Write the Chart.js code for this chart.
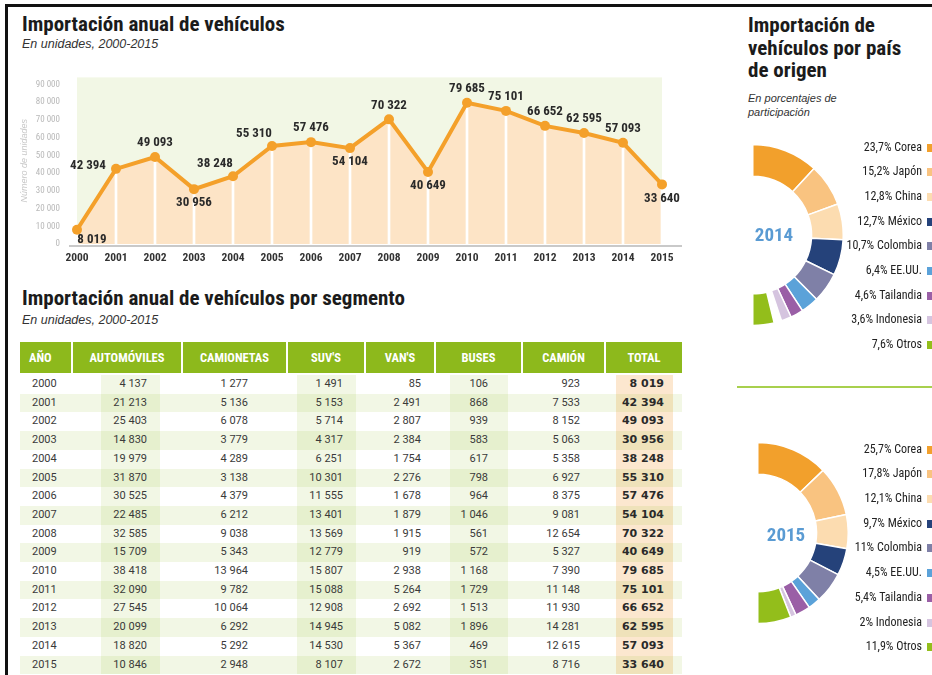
<!DOCTYPE html>
<html lang="es">
<head>
    <meta charset="UTF-8">
    <title>Importación de vehículos</title>
    <script src="https://cdn.jsdelivr.net/npm/chart.js"></script>
    <style>
        :root {
            --cond: "Liberation Sans Narrow", "Roboto Condensed", "DejaVu Sans Condensed", "Arial Narrow", sans-serif;
        }
        body {
            margin: 0;
            width: 932px;
            height: 675px;
            overflow: hidden;
            background: #fff;
            position: relative;
            font-family: "Liberation Sans", Arial, sans-serif;
            color: #222;
        }
        .frame {
            position: absolute;
            left: 5px;
            top: 4px;
            width: 960px;
            height: 700px;
            border-top: 3px solid #111;
            border-left: 3px solid #111;
        }
        .title {
            position: absolute;
            font-family: var(--cond);
            font-weight: bold;
            font-size: 21px;
            color: #1b1b1b;
            white-space: nowrap;
        }
        .sub {
            position: absolute;
            font-style: italic;
            font-size: 12.5px;
            color: #333;
            white-space: nowrap;
        }
        #lineChart { position: absolute; left: 10px; top: 55px; }

        /* tabla */
        .shade { position: absolute; top: 375px; height: 299px; background: rgba(150, 190, 40, 0.12); }
        .shade.total { background: #fce7cf; }
        table {
            position: absolute;
            left: 20px;
            top: 342px;
            width: 662px;
            border-collapse: separate;
            border-spacing: 0;
            table-layout: fixed;
            font-family: Roboto, "Liberation Sans", sans-serif;
            font-size: 11px;
            color: #3a3a3a;
        }
        th {
            background: #8db91c;
            color: #fff;
            font-family: var(--cond);
            font-weight: bold;
            font-size: 12.5px;
            height: 31px;
            padding: 0;
            border-right: 2px solid #fff;
            border-bottom: 2px solid #fff;
            text-align: center;
        }
        th:first-child { text-align: left; padding-left: 9px; }
        th:last-child { border-right: none; }
        td { height: 18.7px; padding: 0; text-align: right; line-height: 18.7px; }
        tbody tr:nth-child(even) td { background: rgba(150, 190, 40, 0.12); }
        td:nth-child(1) { text-align: left; padding-left: 12px; }
        td:nth-child(2) { padding-right: 36px; }
        td:nth-child(3) { padding-right: 40px; }
        td:nth-child(4) { padding-right: 23px; }
        td:nth-child(5) { padding-right: 15px; }
        td:nth-child(6) { padding-right: 35px; }
        td:nth-child(7) { padding-right: 26px; }
        td:nth-child(8) {
            padding-right: 18px;
            font-family: "DejaVu Sans", sans-serif;
            font-weight: bold;
            font-size: 11px;
            color: #2a2a2a;
        }

        /* donas */
        .sep { position: absolute; left: 737px; top: 386px; width: 200px; height: 2px; background: #a8d04e; }
        .dona { position: absolute; }
        .year {
            position: absolute;
            width: 70px;
            text-align: center;
            font-family: var(--cond);
            font-weight: bold;
            font-size: 19px;
            color: #5a9bd3;
        }
        .legend {
            position: absolute;
            left: 795px;
            width: 140px;
            font-family: var(--cond);
            font-size: 12px;
            color: #222;
            text-align: right;
        }
        .legend div { height: 24.7px; line-height: 24.7px; white-space: nowrap; }
        .legend span {
            display: inline-block;
            width: 8px;
            height: 8px;
            margin-left: 5px;
            vertical-align: -1px;
        }
    </style>
</head>
<body>
    <div class="frame"></div>

    <div class="title" style="left:22px; top:12px;">Importación anual de vehículos</div>
    <div class="sub" style="left:22px; top:37px;">En unidades, 2000-2015</div>
    <canvas id="lineChart" width="690" height="220"></canvas>

    <div class="title" style="left:22px; top:286px;">Importación anual de vehículos por segmento</div>
    <div class="sub" style="left:22px; top:313px;">En unidades, 2000-2015</div>
    <div class="shade" style="left:101px; width:59px;"></div>
    <div class="shade" style="left:297px; width:59px;"></div>
    <div class="shade" style="left:450px; width:58px;"></div>
    <div class="shade total" style="left:616px; width:57px;"></div>
    <table id="tabla">
        <colgroup>
            <col style="width:53px"><col style="width:110px"><col style="width:105px"><col style="width:78px">
            <col style="width:70px"><col style="width:87px"><col style="width:83px"><col style="width:76px">
        </colgroup>
        <thead><tr id="cabecera"></tr></thead>
        <tbody id="cuerpo"></tbody>
    </table>

    <div class="title" style="left:748px; top:14px; line-height:22.5px;">Importación de<br>vehículos por país<br>de origen</div>
    <div class="sub" style="left:748px; top:91px; font-size:11px; line-height:14px;">En porcentajes de<br>participación</div>

    <canvas class="dona" id="dona2014" width="92" height="184" style="left:752px; top:143px;"></canvas>
    <div class="year" style="left:739px; top:223px;">2014</div>
    <div class="legend" id="leyenda2014" style="top:134.6px;"></div>

    <div class="sep"></div>

    <canvas class="dona" id="dona2015" width="92" height="184" style="left:757px; top:441px;"></canvas>
    <div class="year" style="left:751px; top:523px;">2015</div>
    <div class="legend" id="leyenda2015" style="top:436.7px;"></div>

    <script>
        // Datos
        const years = ['2000', '2001', '2002', '2003', '2004', '2005', '2006', '2007',
                       '2008', '2009', '2010', '2011', '2012', '2013', '2014', '2015'];
        const totals = [8019, 42394, 49093, 30956, 38248, 55310, 57476, 54104,
                        70322, 40649, 79685, 75101, 66652, 62595, 57093, 33640];
        const yTicks = [0, 10000, 20000, 30000, 40000, 50000, 60000, 70000, 80000, 90000];

        const automoviles = [4137, 21213, 25403, 14830, 19979, 31870, 30525, 22485, 32585, 15709, 38418, 32090, 27545, 20099, 18820, 10846];
        const camionetas = [1277, 5136, 6078, 3779, 4289, 3138, 4379, 6212, 9038, 5343, 13964, 9782, 10064, 6292, 5292, 2948];
        const suvs = [1491, 5153, 5714, 4317, 6251, 10301, 11555, 13401, 13569, 12779, 15807, 15088, 12908, 14945, 14530, 8107];
        const vans = [85, 2491, 2807, 2384, 1754, 2276, 1678, 1879, 1915, 919, 2938, 5264, 2692, 5082, 5367, 2672];
        const buses = [106, 868, 939, 583, 617, 798, 964, 1046, 561, 572, 1168, 1729, 1513, 1896, 469, 351];
        const camion = [923, 7533, 8152, 5063, 5358, 6927, 8375, 9081, 12654, 5327, 7390, 11148, 11930, 14281, 12615, 8716];
        const segmentHeaders = ['AÑO', 'AUTOMÓVILES', 'CAMIONETAS', "SUV'S", "VAN'S", 'BUSES', 'CAMIÓN', 'TOTAL'];

        const countries = ['Corea', 'Japón', 'China', 'México', 'Colombia', 'EE.UU.', 'Tailandia', 'Indonesia', 'Otros'];
        const share2014 = [23.7, 15.2, 12.8, 12.7, 10.7, 6.4, 4.6, 3.6, 7.6];
        const share2015 = [25.7, 17.8, 12.1, 9.7, 11, 4.5, 5.4, 2, 11.9];

        const countryColors = ['#f2a02c', '#f9c380', '#fcdcb0', '#25427a', '#7f80a7', '#5ba2d9', '#9a5fa6', '#d5c4df', '#93be1b'];
        const condFont = '"Liberation Sans Narrow", "Roboto Condensed", "DejaVu Sans Condensed", "Arial Narrow", sans-serif';

        const fmt = n => n.toString().replace(/\B(?=(\d{3})+(?!\d))/g, ' ');

        // Tabla
        const cabecera = document.getElementById('cabecera');
        segmentHeaders.forEach(h => {
            const th = document.createElement('th');
            th.textContent = h;
            cabecera.appendChild(th);
        });
        const cuerpo = document.getElementById('cuerpo');
        years.forEach((y, i) => {
            const tr = document.createElement('tr');
            const cells = [y, fmt(automoviles[i]), fmt(camionetas[i]), fmt(suvs[i]), fmt(vans[i]),
                           fmt(buses[i]), fmt(camion[i]), fmt(totals[i])];
            cells.forEach(c => {
                const td = document.createElement('td');
                td.textContent = c;
                tr.appendChild(td);
            });
            cuerpo.appendChild(tr);
        });

        // Gráfico de línea
        const labelPlace = ['br', 'l', 'a', 'b', 'al', 'al', 'a', 'b', 'a', 'b', 'a', 'a', 'a', 'a', 'a', 'b'];
        const placeOffset = { a: [0, -14], b: [0, 14], al: [-18, -12], l: [-28, -3], br: [15, 10] };

        const plotBackground = {
            id: 'plotBackground',
            beforeDraw(chart) {
                const { ctx, chartArea: a } = chart;
                ctx.save();
                ctx.fillStyle = '#f2f7e5';
                ctx.fillRect(a.left, a.top, a.right - a.left, a.bottom - a.top);
                ctx.restore();
            },
            beforeDatasetsDraw(chart) {
                const { ctx, chartArea: a } = chart;
                ctx.save();
                ctx.strokeStyle = '#c9c9c9';
                ctx.lineWidth = 2;
                ctx.beginPath();
                ctx.moveTo(a.left - 8, a.bottom + 2);
                ctx.lineTo(a.right + 20, a.bottom + 2);
                ctx.stroke();
                ctx.restore();
            }
        };

        const pointLabels = {
            id: 'pointLabels',
            afterDatasetsDraw(chart) {
                const { ctx } = chart;
                const meta = chart.getDatasetMeta(0);
                ctx.save();
                ctx.font = 'bold 13px ' + condFont;
                ctx.fillStyle = '#2a2a2a';
                ctx.textAlign = 'center';
                ctx.textBaseline = 'middle';
                meta.data.forEach((pt, i) => {
                    const off = placeOffset[labelPlace[i]];
                    ctx.fillText(fmt(totals[i]), pt.x + off[0], pt.y + off[1]);
                });
                ctx.restore();
            }
        };

        new Chart(document.getElementById('lineChart'), {
            type: 'line',
            data: {
                labels: years,
                datasets: [{
                    type: 'line',
                    data: totals,
                    order: 0,
                    borderColor: '#f4a02a',
                    borderWidth: 4,
                    backgroundColor: '#fde4c6',
                    fill: 'origin',
                    tension: 0,
                    pointRadius: 5,
                    pointBackgroundColor: '#f4a02a',
                    pointBorderWidth: 0,
                    clip: false
                }, {
                    type: 'bar',
                    data: totals,
                    order: 1,
                    backgroundColor: '#ffffff',
                    barThickness: 2
                }]
            },
            options: {
                responsive: false,
                animation: false,
                layout: { padding: { top: 9, right: 38, left: 0, bottom: 0 } },
                plugins: {
                    legend: { display: false },
                    tooltip: { enabled: false },
                    filler: { drawTime: 'beforeDatasetsDraw' }
                },
                scales: {
                    x: {
                        offset: false,
                        grid: { display: false, drawTicks: false },
                        border: { display: false },
                        afterFit: s => { s.height = 31; },
                        ticks: {
                            padding: 7,
                            color: '#333',
                            autoSkip: false,
                            maxRotation: 0,
                            font: { family: condFont, size: 11.5, weight: 'bold' }
                        }
                    },
                    y: {
                        min: 0,
                        max: 94000,
                        grid: { display: false, drawTicks: false },
                        border: { display: false },
                        afterFit: s => { s.width = 67; },
                        afterBuildTicks: s => { s.ticks = yTicks.map(v => ({ value: v })); },
                        ticks: {
                            padding: 17,
                            color: '#b8b8b8',
                            font: { family: condFont, size: 9 },
                            callback: v => fmt(v)
                        },
                        title: {
                            display: true,
                            text: 'Número de unidades',
                            color: '#c8c8c8',
                            padding: { top: 9, bottom: 0 },
                            font: { family: '"Liberation Sans", Arial, sans-serif', size: 9, style: 'italic' }
                        }
                    }
                }
            },
            plugins: [plotBackground, pointLabels]
        });

        // Donas
        function drawDona(canvasId, legendId, shares) {
            const sum = shares.reduce((s, v) => s + v, 0);
            const gap = Math.max(0, Math.round((100 - sum) * 10) / 10);
            const values = shares.slice(0, 8).concat([gap, shares[8]]);
            const colors = countryColors.slice(0, 8).concat(['rgba(0,0,0,0)', countryColors[8]]);
            const borders = values.map((v, i) => (i === 8 ? 0 : 1.5));

            new Chart(document.getElementById(canvasId), {
                type: 'doughnut',
                data: {
                    labels: countries.slice(0, 8).concat(['', countries[8]]),
                    datasets: [{
                        data: values,
                        backgroundColor: colors,
                        borderColor: '#ffffff',
                        borderWidth: borders
                    }]
                },
                options: {
                    responsive: false,
                    animation: false,
                    rotation: 0,
                    circumference: 180,
                    cutout: '65%',
                    plugins: { legend: { display: false }, tooltip: { enabled: false } }
                }
            });

            const legend = document.getElementById(legendId);
            shares.forEach((v, i) => {
                const row = document.createElement('div');
                row.textContent = String(v).replace('.', ',') + '% ' + countries[i];
                const box = document.createElement('span');
                box.style.background = countryColors[i];
                row.appendChild(box);
                legend.appendChild(row);
            });
        }

        drawDona('dona2014', 'leyenda2014', share2014);
        drawDona('dona2015', 'leyenda2015', share2015);
    </script>
</body>
</html>
